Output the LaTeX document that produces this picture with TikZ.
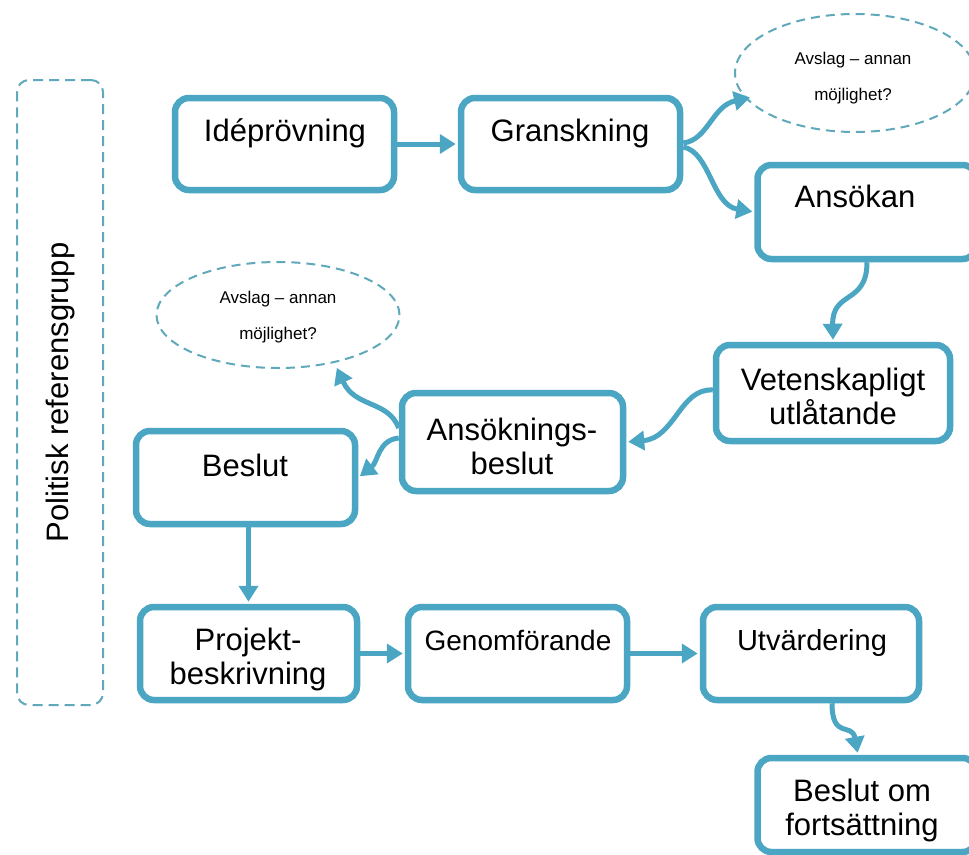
\documentclass[tikz,border=0pt]{standalone}
\usepackage{fontspec}
\setmainfont{Liberation Sans}
\usetikzlibrary{arrows.meta,calc,shapes.geometric}
\definecolor{tealline}{HTML}{4AA6C3}
\definecolor{dashline}{HTML}{5FA9BA}
\begin{document}
\begin{tikzpicture}[x=1pt,y=-1pt,
  stepbox/.style={draw=tealline, line width=6.5pt, rounded corners=14pt, fill=white,
    minimum width=219pt, minimum height=93pt, inner sep=0pt},
  lbl/.style={font=\fontsize{31}{34}\selectfont, align=center, inner sep=0pt},
  smalllbl/.style={font=\fontsize{17}{36}\selectfont, align=center, inner sep=0pt},
  conn/.style={draw=tealline, line width=5pt, shorten >=2pt,
    -{Triangle[length=16pt,width=19pt]}},
  dashell/.style={draw=dashline, line width=2pt, dash pattern=on 9pt off 6pt,
    ellipse, inner sep=0pt, fill=white},
  grpbox/.style={draw=dashline, line width=2pt, dash pattern=on 10pt off 6pt,
    rounded corners=12pt, inner sep=0pt},
]
\useasboundingbox (0,0) rectangle (969,854);
\fill[white] (0,0) rectangle (969,854);
\clip (0,0) rectangle (969,854);

% group box
\node[grpbox, minimum width=86pt, minimum height=625pt] (grp) at (60,392.5) {};
\node[lbl, rotate=90] (grptxt) at (grp.center) {Politisk referensgrupp};

% ellipses
\node[dashell, minimum width=240pt, minimum height=118pt] (ell1) at (855,73) {};
\node[dashell, minimum width=243pt, minimum height=106pt] (ell2) at (278,315) {};
\node[smalllbl] (ell1txt) at (853,78) {Avslag – annan\\möjlighet?};
\node[smalllbl] (ell2txt) at (278,317) {Avslag – annan\\möjlighet?};

% boxes
\node[stepbox, minimum height=92pt] (idea) at (284.5,144) {};
\node[stepbox, minimum height=92pt] (gran) at (570.5,144) {};
\node[stepbox, minimum height=94pt] (ans) at (867,212) {};
\node[stepbox, minimum width=234pt, minimum height=96pt] (vet) at (833,393) {};
\node[stepbox, minimum width=221pt, minimum height=98pt] (ansb) at (512.5,442) {};
\node[stepbox] (beslut) at (245.5,477.5) {};
\node[stepbox, minimum width=217pt] (proj) at (248.5,653.5) {};
\node[stepbox] (genom) at (517.5,653.5) {};
\node[stepbox, minimum width=216pt] (utv) at (811,653.5) {};
\node[stepbox, minimum height=94pt] (bof) at (867,805) {};

% texts
\node[lbl, anchor=base] (ideatxt) at (285,141) {Idéprövning};
\node[lbl, anchor=base] (grantxt) at (570,141) {Granskning};
\node[lbl, anchor=base] (anstxt) at (855,207) {Ansökan};
\node[lbl] (vettxt) at (833,396) {Vetenskapligt\\utlåtande};
\node[lbl] (ansbtxt) at (512,446) {Ansöknings-\\beslut};
\node[lbl, anchor=base] (beslutxt) at (245,476) {Beslut};
\node[lbl] (projtxt) at (248,659) {Projekt-\\beskrivning};
\node[lbl, anchor=base, font=\fontsize{28}{32}\selectfont] (genomtxt) at (518,650) {Genomförande};
\node[lbl, anchor=base, font=\fontsize{29}{32}\selectfont] (utvtxt) at (812,650) {Utvärdering};
\node[lbl] (boftxt) at (862,810) {Beslut om\\fortsättning};

% connector end points
\coordinate (e1tip) at (752,97);
\coordinate (e2tip) at (336,366);

% connectors
\draw[conn] (idea) -- (gran);
\draw[conn] ($(gran.east)+(0,-1)$) .. controls (708,140) and (712,106) .. (e1tip);
\draw[conn] ($(gran.east)+(0,3)$) .. controls (710,152) and (712,205) .. (ans.west);
\draw[conn] (ans.south) .. controls (867,305) and (832,290) .. (vet.north);
\draw[conn] ($(vet.west)+(0,-3)$) .. controls (680,388) and (675,438) .. (ansb.east);
\draw[conn] ($(ansb.west)+(0,-14)$) .. controls (388,400) and (355,408) .. (e2tip);
\draw[conn] ($(ansb.west)+(0,-4)$) .. controls (378,440) and (378,462) .. (beslut.east);
\draw[conn] (proj.north |- beslut.south) -- (proj.north);
\draw[conn] (proj) -- (genom);
\draw[conn] (genom) -- (utv);
\draw[conn] ($(utv.south)+(21,0)$) .. controls (832,740) and (852,722) .. ($(bof.north)+(-9,0)$);
\end{tikzpicture}
\end{document}
